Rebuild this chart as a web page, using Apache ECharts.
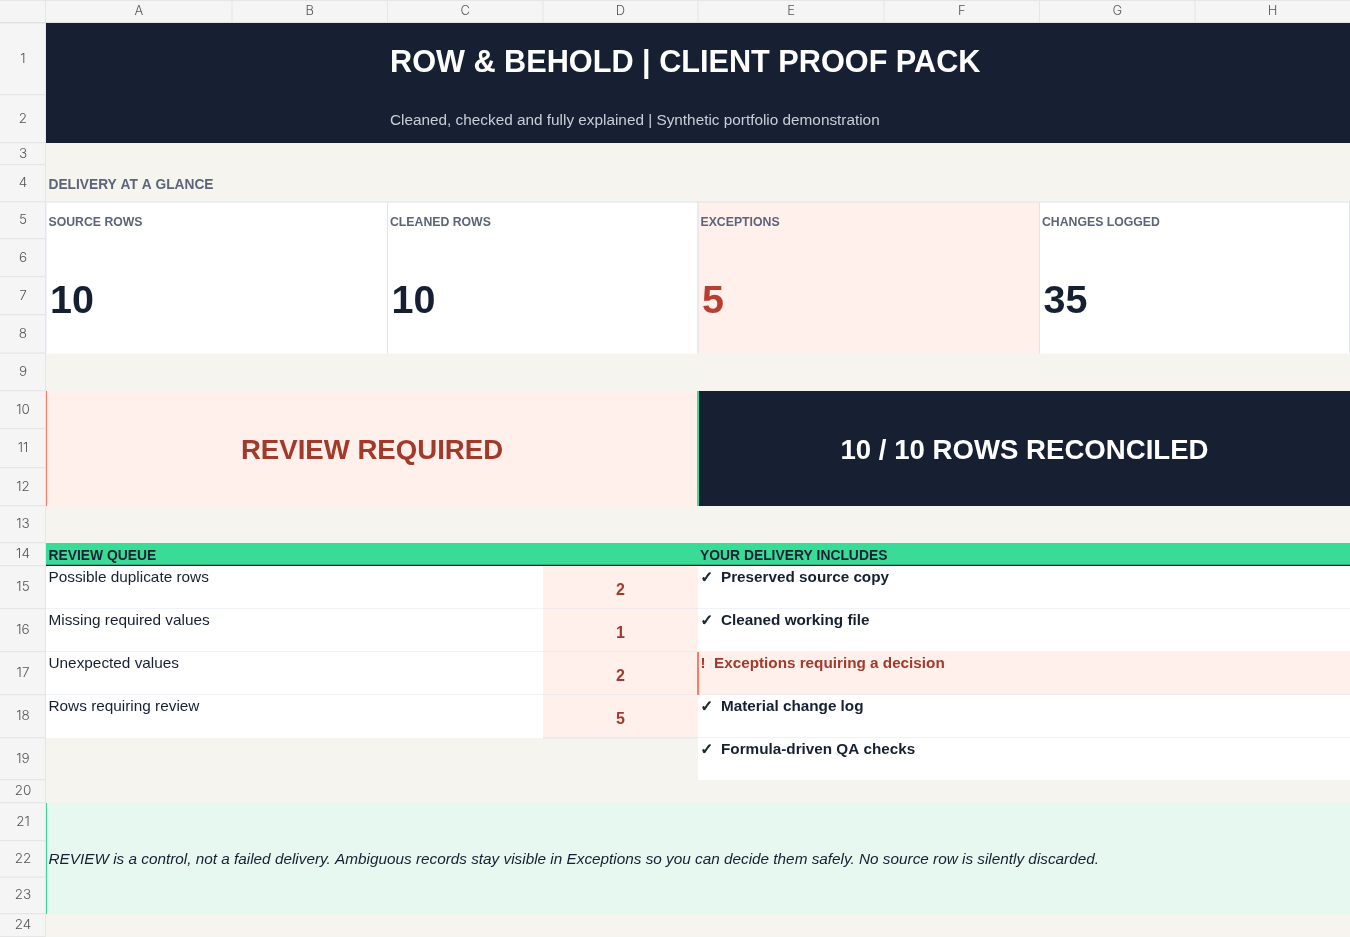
<!DOCTYPE html>
<html><head><meta charset="utf-8">
<style>html,body{margin:0;padding:0;background:#f6f4ef;overflow:hidden}#c{width:1350px;height:937px}</style>
<script src="https://cdn.jsdelivr.net/npm/echarts@6/dist/echarts.min.js"></script>
</head><body><div id="c"></div>
<script>
// ---- content ----
const columnLabels = ['A','B','C','D','E','F','G','H'];
const rowLabels = ['1','2','3','4','5','6','7','8','9','10','11','12','13','14','15','16','17','18','19','20','21','22','23','24'];
const titleText = 'ROW & BEHOLD | CLIENT PROOF PACK';
const subtitleText = 'Cleaned, checked and fully explained | Synthetic portfolio demonstration';
const glanceHeading = 'DELIVERY AT A GLANCE';
const kpiLabels = ['SOURCE ROWS','CLEANED ROWS','EXCEPTIONS','CHANGES LOGGED'];
const kpiValues = [10,10,5,35];
const bannerLeft = 'REVIEW REQUIRED';
const bannerRight = '10 / 10 ROWS RECONCILED';
const queueHeading = 'REVIEW QUEUE';
const queueLabels = ['Possible duplicate rows','Missing required values','Unexpected values','Rows requiring review'];
const queueValues = [2,1,2,5];
const deliveryHeading = 'YOUR DELIVERY INCLUDES';
const deliveryItems = ['Preserved source copy','Cleaned working file','Exceptions requiring a decision','Material change log','Formula-driven QA checks'];
const deliveryMarks = ['✓','✓','!','✓','✓'];
const noteText = 'REVIEW is a control, not a failed delivery. Ambiguous records stay visible in Exceptions so you can decide them safely. No source row is silently discarded.';

// ---- sheet layout ----
const colEdges = [46,232,387.5,543,698,884,1039.5,1195,1350];
const rowEdges = [23,95,143,165,202,239,277,315,353.5,391,429,468,506,543,566,609,652,695,738,780,803,841,877.5,914,937];
const C = {navy:'#172033',page:'#f6f4ef',pink:'#fff0eb',red:'#a23a2c',red2:'#b93e30',green:'#3adb97',mint:'#e6f8f0',
  coral:'#ff7a66',line:'#e0e5ee',slate:'#5b6478',head:'#f5f5f5',headLine:'#e6e6e6',headText:'#555',white:'#fff',sub:'#c9ced8'};
const SANS = '"Liberation Sans", Arial, sans-serif';
const HEAD = 'Inter, "Noto Sans", sans-serif';
const marks = [];
const rect = (x0,y0,x1,y1,fill) => marks.push({k:'r',x0,y0,x1,y1,fill});
const text = (x,y,t,o) => marks.push(Object.assign({k:'t',x,y,t},o));
const X = i => colEdges[i], Y = i => rowEdges[i];

// page + headers
rect(46,23,1350,937,C.page);
rect(0,0,1350,23,C.head); rect(0,0,46,937,C.head);
rect(0,0,1350,1,C.headLine);
colEdges.forEach((e,i)=>{ if(i>0&&i<8) rect(e-.5,1,e+.5,22,C.headLine); });
rect(45,0,46,937,C.headLine); rect(0,22.2,1350,23.2,'#d8d8d8');
rowEdges.forEach((e,i)=>{ if(i>0) rect(0,e-1,45,e+.3,C.headLine); });
columnLabels.forEach((l,i)=>text((X(i)+X(i+1))/2,11.5,l,{font:'300 13px '+HEAD,fill:C.headText,align:'center'}));
rowLabels.forEach((l,i)=>text(23,(Y(i)+Y(i+1))/2-.5,l,{font:'300 13.5px '+HEAD,fill:C.headText,align:'center'}));

// title band
rect(46,Y(0),1350,Y(2),C.navy);
text(390,63.5,titleText,{font:'bold 30.67px '+SANS,fill:C.white});
text(390,120.5,subtitleText,{font:'15.34px '+SANS,fill:C.sub});
text(48.5,185.5,glanceHeading,{font:'bold 13.75px '+SANS,fill:C.slate});

// KPI row
const kpiCols = [[0,2],[2,4],[4,6],[6,8]];
kpiCols.forEach(([a,b],i)=>{
  rect(X(a),Y(4),X(b),Y(8),i===2?C.pink:C.white);
  rect(X(a)-.5,Y(4),X(a)+.5,Y(8),i===2?'#e8e8f0':C.line);
  text(X(a)+2.5,222.5,kpiLabels[i],{font:'bold 12.27px '+SANS,fill:C.slate});
  text(X(a)+4,302,String(kpiValues[i]),{font:'bold 39.5px '+SANS,fill:i===2?C.red2:C.navy});
});
rect(697,Y(4),698.6,Y(8),'#e8e8f0');
rect(1039,Y(4),1040,Y(8),'#f6dcd8');
rect(1349,Y(4),1350,Y(8),C.line);
rect(46,Y(4)-.5,1350,Y(4)+.5,'#e0e2e8');

// banners
rect(46,Y(9),698,Y(12),C.pink); rect(46,Y(9),47,Y(12),C.coral);
text(372,451,bannerLeft,{font:'bold 27.6px '+SANS,fill:C.red,align:'center'});
rect(697,Y(9),1350,Y(12),C.navy); rect(697,Y(9),699,Y(12),C.green);
text(1024.5,451,bannerRight,{font:'bold 27.6px '+SANS,fill:C.white,align:'center'});

// section heads
rect(46,Y(13),1350,Y(14),C.green);
rect(46,Y(14)-1.3,1350,Y(14),C.navy);
text(48.5,556.5,queueHeading,{font:'bold 13.86px '+SANS,fill:C.navy});
text(700,556.5,deliveryHeading,{font:'bold 13.86px '+SANS,fill:C.navy});

// queue rows
queueLabels.forEach((l,i)=>{
  const a=Y(14+i), b=Y(15+i);
  rect(46,a,543,b,C.white); rect(543,a,698,b,C.pink);
  if(i<3) rect(46,b-.6,698,b+.4,C.line);
  text(48.5,a+11.5,l,{font:'15.35px '+SANS,fill:C.navy});
  text(620.5,a+24.5,String(queueValues[i]),{font:'bold 16px '+SANS,fill:C.red,align:'center'});
});
rect(543,Y(18)-.6,698,Y(18)+.4,C.line);

// delivery rows
deliveryItems.forEach((l,i)=>{
  const a=Y(14+i), b=Y(15+i), warn=deliveryMarks[i]==='!';
  rect(698,a,1350,b,warn?C.pink:C.white);
  if(i<4) rect(698,b-.6,1350,b+.4,C.line);
  if(warn) rect(697,a,699,b,C.coral);
  text(700.5,a+12,deliveryMarks[i],warn
    ?{font:'bold 15px '+SANS,fill:C.red}
    :{font:'bold 15px "DejaVu Sans", '+SANS,fill:C.navy,stroke:C.navy,lineWidth:.8});
  text(warn?714:721,a+12,l,{font:'bold 15.27px '+SANS,fill:warn?C.red:C.navy});
});

// note
rect(46,Y(20),1350,Y(23),C.mint); rect(46,Y(20),47,Y(23),C.green);
text(48.5,859.5,noteText,{font:'italic 15.32px '+SANS,fill:C.navy});

const chart = echarts.init(document.getElementById('c'),null,{renderer:'canvas'});
chart.setOption({
  animation:false,
  grid:{left:0,right:0,top:0,bottom:0},
  xAxis:{type:'value',min:0,max:1350,show:false},
  yAxis:{type:'value',min:0,max:937,inverse:true,show:false},
  series:[{
    type:'custom',coordinateSystem:'cartesian2d',silent:true,clip:false,
    data:marks.map((m,i)=>[i]),
    encode:{x:[],y:[]},
    renderItem(p,api){
      const m=marks[api.value(0)];
      if(m.k==='r'){
        const a=api.coord([m.x0,m.y0]), b=api.coord([m.x1,m.y1]);
        return {type:'rect',shape:{x:a[0],y:a[1],width:b[0]-a[0],height:b[1]-a[1]},style:{fill:m.fill}};
      }
      const c=api.coord([m.x,m.y]);
      const s={text:m.t,font:m.font,fill:m.fill,align:m.align||'left',verticalAlign:'middle'};
      if(m.stroke){s.stroke=m.stroke;s.lineWidth=m.lineWidth;}
      return {type:'text',x:c[0],y:c[1],style:s};
    }
  }]
});
</script></body></html>
